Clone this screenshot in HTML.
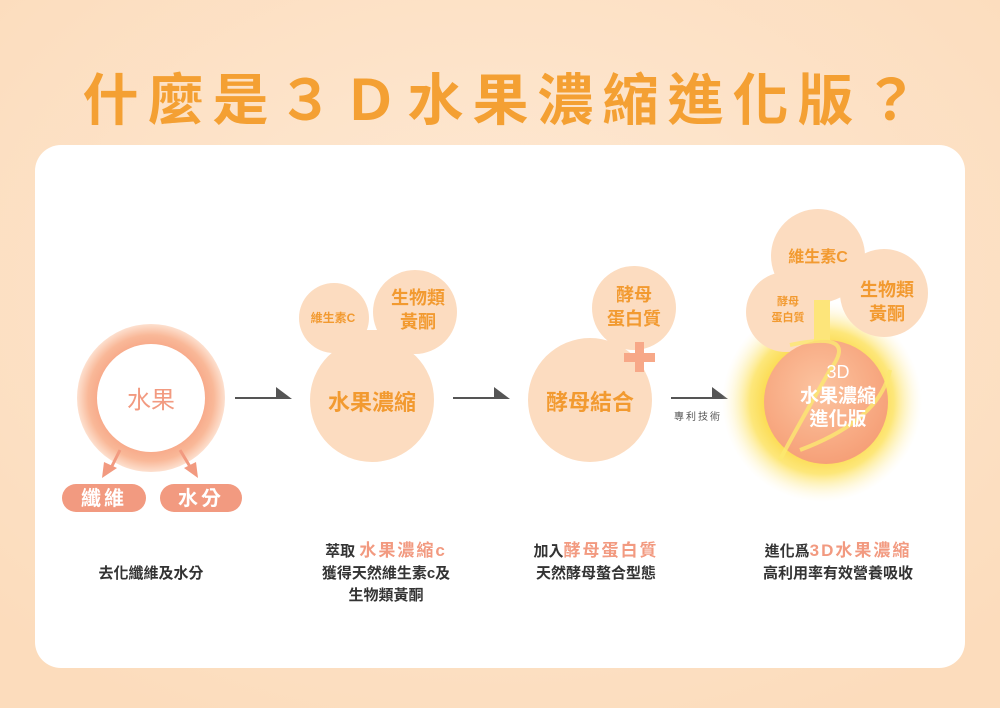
<!DOCTYPE html>
<html><head><meta charset="utf-8"><style>
html,body{margin:0;padding:0;width:1000px;height:708px;overflow:hidden;background:#fde3c8}
svg{display:block}
text{font-family:"Liberation Sans","Noto Sans CJK TC",sans-serif}
</style></head><body>
<svg width="1000" height="708" viewBox="0 0 1000 708">
<defs>
<radialGradient id="bg" cx="50%" cy="40%" r="70%"><stop offset="0" stop-color="#fee9d4"/><stop offset="1" stop-color="#fcdcbc"/></radialGradient>
<radialGradient id="ring" cx="50%" cy="50%" r="50%"><stop offset="0.7" stop-color="#f7a888"/><stop offset="0.85" stop-color="#f9b898"/><stop offset="1" stop-color="#fde0cf"/></radialGradient>
<radialGradient id="glow" cx="50%" cy="50%" r="50%"><stop offset="0.5" stop-color="#fbd640"/><stop offset="0.72" stop-color="#fde77a"/><stop offset="1" stop-color="#fff6d8" stop-opacity="0"/></radialGradient>
<radialGradient id="core" cx="45%" cy="40%" r="60%"><stop offset="0" stop-color="#fcc4a0"/><stop offset="1" stop-color="#f6a078"/></radialGradient>
</defs>
<rect width="1000" height="708" fill="url(#bg)"/>
<text x="505" y="120" text-anchor="middle" font-size="56" font-weight="bold" fill="#f4a033" letter-spacing="9">什麼是３Ｄ水果濃縮進化版？</text>
<rect x="35" y="145" width="930" height="523" rx="26" fill="#fff"/>

<!-- node1 -->
<circle cx="151" cy="398" r="74" fill="url(#ring)"/>
<circle cx="151" cy="398" r="54" fill="#fff"/>
<text x="151" y="408" text-anchor="middle" font-size="24" fill="#f29a80">水果</text>
<g stroke="#f29a80" stroke-width="3" fill="#f29a80">
<line x1="120" y1="450" x2="110" y2="470"/><polygon points="102,478 104,462 117,468" stroke="none"/>
<line x1="180" y1="450" x2="192" y2="470"/><polygon points="198,478 184,468 196,462" stroke="none"/>
</g>
<rect x="62" y="484" width="84" height="28" rx="14" fill="#f29a80"/>
<rect x="160" y="484" width="82" height="28" rx="14" fill="#f29a80"/>
<text x="104" y="505" text-anchor="middle" font-size="20" font-weight="bold" fill="#fff" letter-spacing="3">纖維</text>
<text x="201" y="505" text-anchor="middle" font-size="20" font-weight="bold" fill="#fff" letter-spacing="3">水分</text>

<!-- arrows -->
<g fill="#555"><rect x="235" y="397" width="50" height="2"/><polygon points="276,387 292,399 276,399"/>
<rect x="453" y="397" width="50" height="2"/><polygon points="494,387 510,399 494,399"/>
<rect x="671" y="397" width="50" height="2"/><polygon points="712,387 728,399 712,399"/></g>
<text x="698" y="420" text-anchor="middle" font-size="10" fill="#555" letter-spacing="2">專利技術</text>

<!-- node2 -->
<g fill="#fcdcc0"><circle cx="334" cy="318" r="35"/><circle cx="415" cy="312" r="42"/><circle cx="372" cy="400" r="62"/><rect x="345" y="330" width="55" height="30"/></g>
<text x="333" y="322" text-anchor="middle" font-size="12" font-weight="bold" fill="#f29a30">維生素C</text>
<text x="418" y="304" text-anchor="middle" font-size="18" font-weight="bold" fill="#f29a30">生物類</text>
<text x="418" y="328" text-anchor="middle" font-size="18" font-weight="bold" fill="#f29a30">黃酮</text>
<text x="372" y="410" text-anchor="middle" font-size="22" font-weight="bold" fill="#f29a30">水果濃縮</text>

<!-- node3 -->
<g fill="#fcdcc0"><circle cx="634" cy="308" r="42"/><circle cx="590" cy="400" r="62"/></g>
<text x="634" y="301" text-anchor="middle" font-size="18" font-weight="bold" fill="#f29a30">酵母</text>
<text x="634" y="325" text-anchor="middle" font-size="18" font-weight="bold" fill="#f29a30">蛋白質</text>
<g fill="#f7a888"><rect x="635" y="342" width="9" height="30"/><rect x="624" y="353" width="31" height="9"/></g>
<text x="590" y="410" text-anchor="middle" font-size="22" font-weight="bold" fill="#f29a30">酵母結合</text>

<!-- node4 -->
<circle cx="822" cy="402" r="100" fill="url(#glow)"/>
<g fill="#fcdcc0"><circle cx="818" cy="256" r="47"/><circle cx="786" cy="312" r="40"/><circle cx="884" cy="293" r="44"/></g>
<rect x="814" y="300" width="16" height="40" fill="#fde57a"/>
<circle cx="826" cy="402" r="62" fill="url(#core)"/>
<path d="M790 345 Q860 330 830 370 Q790 440 780 460" stroke="#fbe870" stroke-width="4" fill="none" opacity="0.8"/>
<path d="M890 370 Q880 420 800 450" stroke="#fbe870" stroke-width="4" fill="none" opacity="0.8"/>
<text x="818" y="262" text-anchor="middle" font-size="16" font-weight="bold" fill="#f29a30">維生素C</text>
<text x="788" y="305" text-anchor="middle" font-size="11" font-weight="bold" fill="#f29a30">酵母</text>
<text x="788" y="321" text-anchor="middle" font-size="11" font-weight="bold" fill="#f29a30">蛋白質</text>
<text x="887" y="296" text-anchor="middle" font-size="18" font-weight="bold" fill="#f29a30">生物類</text>
<text x="887" y="320" text-anchor="middle" font-size="18" font-weight="bold" fill="#f29a30">黃酮</text>
<text x="838" y="378" text-anchor="middle" font-size="18" fill="#fff">3D</text>
<text x="838" y="402" text-anchor="middle" font-size="19" font-weight="bold" fill="#fff">水果濃縮</text>
<text x="838" y="425" text-anchor="middle" font-size="19" font-weight="bold" fill="#fff">進化版</text>

<!-- captions -->
<g font-size="15" fill="#333" text-anchor="middle" font-weight="bold">
<text x="151" y="578">去化纖維及水分</text>
<text x="386" y="556">萃取 <tspan fill="#f29a80" font-size="17" letter-spacing="2">水果濃縮c</tspan></text>
<text x="386" y="578">獲得天然維生素c及</text>
<text x="386" y="600">生物類黃酮</text>
<text x="596" y="556">加入<tspan fill="#f29a80" font-size="17" letter-spacing="2">酵母蛋白質</tspan></text>
<text x="596" y="578">天然酵母螯合型態</text>
<text x="838" y="556">進化爲<tspan fill="#f29a80" font-size="17" letter-spacing="2">3D水果濃縮</tspan></text>
<text x="838" y="578">高利用率有效營養吸收</text>
</g>
</svg>
</body></html>
